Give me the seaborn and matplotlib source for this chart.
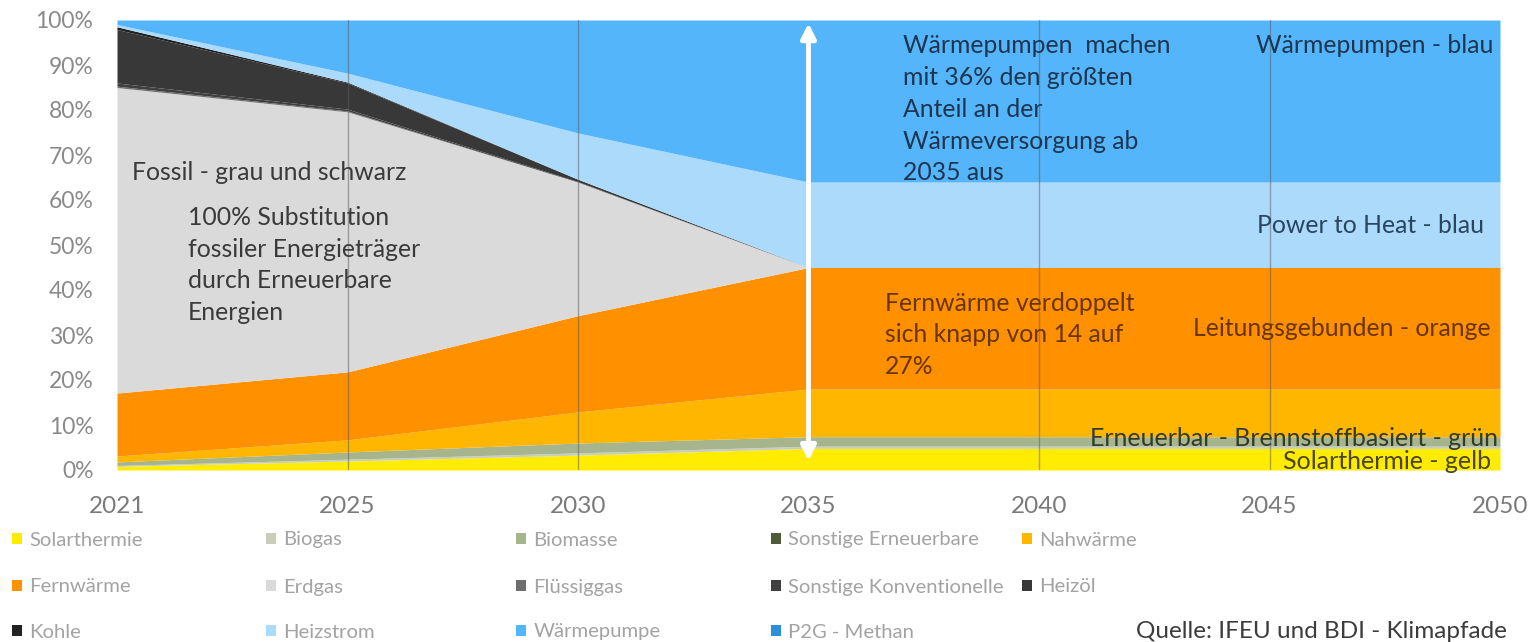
import matplotlib
matplotlib.use("Agg")
import matplotlib.pyplot as plt
from matplotlib.patches import Patch
import seaborn as sns

# ---- data: share of heat supply (%) ----
years = [2021, 2025, 2030, 2035, 2040, 2045, 2050]

solarthermie = [0.8, 2.0, 3.3, 4.8, 4.8, 4.8, 4.8]
biogas = [0.2, 0.4, 0.5, 0.5, 0.5, 0.5, 0.5]
biomasse = [0.8, 1.6, 2.2, 2.1, 2.1, 2.1, 2.1]
sonstige_erneuerbare = [0.0, 0.0, 0.0, 0.0, 0.0, 0.0, 0.0]
nahwaerme = [1.3, 2.7, 6.9, 10.6, 10.6, 10.6, 10.6]
fernwaerme = [14.0, 15.1, 21.4, 27.0, 27.0, 27.0, 27.0]
erdgas = [67.9, 57.8, 29.7, 0.0, 0.0, 0.0, 0.0]
fluessiggas = [0.3, 0.2, 0.0, 0.0, 0.0, 0.0, 0.0]
sonstige_konventionelle = [0.7, 0.4, 0.1, 0.0, 0.0, 0.0, 0.0]
heizoel = [11.9, 5.8, 0.5, 0.0, 0.0, 0.0, 0.0]
kohle = [0.6, 0.2, 0.0, 0.0, 0.0, 0.0, 0.0]
heizstrom = [0.5, 2.0, 10.3, 19.0, 19.0, 19.0, 19.0]
waermepumpe = [1.0, 11.8, 25.1, 36.0, 36.0, 36.0, 36.0]
p2g_methan = [0.0, 0.0, 0.0, 0.0, 0.0, 0.0, 0.0]

series_labels = ["Solarthermie", "Biogas", "Biomasse", "Sonstige Erneuerbare",
                 "Nahwärme", "Fernwärme", "Erdgas", "Flüssiggas",
                 "Sonstige Konventionelle", "Heizöl", "Kohle", "Heizstrom",
                 "Wärmepumpe", "P2G - Methan"]
series_values = [solarthermie, biogas, biomasse, sonstige_erneuerbare,
                 nahwaerme, fernwaerme, erdgas, fluessiggas,
                 sonstige_konventionelle, heizoel, kohle, heizstrom,
                 waermepumpe, p2g_methan]
series_colors = ["#FFEC00", "#C9CEBB", "#A7B58F", "#4E5B3A",
                 "#FFB600", "#FF9000", "#DADADA", "#6E6E6E",
                 "#404040", "#383838", "#222222", "#ABDAFB",
                 "#55B5FA", "#2E8FD8"]

# legend laid out row by row
legend_rows = [["Solarthermie", "Biogas", "Biomasse", "Sonstige Erneuerbare", "Nahwärme"],
               ["Fernwärme", "Erdgas", "Flüssiggas", "Sonstige Konventionelle", "Heizöl"],
               ["Kohle", "Heizstrom", "Wärmepumpe", "P2G - Methan"]]

sns.set_theme(style="white")
plt.rcParams["font.family"] = ["Lato", "DejaVu Sans"]

W, H = 1534, 642
fig = plt.figure(figsize=(W / 100, H / 100), dpi=100)
ax = fig.add_axes([117 / W, 1 - 470 / H, (1500 - 117) / W, (470 - 20) / H])

xpos = list(range(len(years)))
ax.stackplot(xpos, *series_values, colors=series_colors, labels=series_labels,
             linewidth=0, zorder=1)

ax.set_xlim(0, len(years) - 1)
ax.set_ylim(0, 100)
ax.set_xticks(xpos)
ax.set_xticklabels([str(y) for y in years])
ax.set_yticks(range(0, 101, 10))
ax.set_yticklabels([f"{v}%" for v in range(0, 101, 10)])
ax.tick_params(axis="x", length=0, pad=19, labelsize=17.5, labelcolor="#7a7a7a")
ax.tick_params(axis="y", length=0, pad=17, labelsize=16.5, labelcolor="#8a8a8a")
sns.despine(ax=ax, left=True, bottom=True)

# vertical gridlines
for i in [1, 2, 4, 5]:
    ax.axvline(i, color="#5a5a5a", lw=1.0, alpha=0.5, zorder=2)

# white double arrow at 2035
ax.annotate("", xy=(3, 99.3), xytext=(3, 2.0),
            arrowprops=dict(arrowstyle="<|-|>", color="white", lw=3.5,
                            mutation_scale=22, shrinkA=0, shrinkB=0),
            zorder=5)

LS = 7.1  # line spacing in percent units


def block(x, y0, lines, color, size=17.8, ha="left"):
    for k, line in enumerate(lines):
        ax.text(x, y0 - k * LS, line, ha=ha, va="center", fontsize=size,
                color=color, zorder=6)


block(0.065, 66.2, ["Fossil - grau und schwarz"], "#3a3a3a")
block(0.308, 56.2, ["100% Substitution", "fossiler Energieträger",
                    "durch Erneuerbare", "Energien"], "#3a3a3a")
block(3.41, 94.4, ["Wärmepumpen  machen", "mit 36% den größten", "Anteil an der",
                   "Wärmeversorgung ab", "2035 aus"], "#1d3550")
block(5.97, 94.4, ["Wärmepumpen - blau"], "#1d3550", ha="right")
block(5.93, 54.4, ["Power to Heat - blau"], "#2a4560", ha="right")
block(3.33, 37.1, ["Fernwärme verdoppelt", "sich knapp von 14 auf", "27%"], "#6a3400")
block(5.96, 31.5, ["Leitungsgebunden - orange"], "#6a3400", ha="right")
block(5.99, 6.9, ["Erneuerbar - Brennstoffbasiert - grün"], "#333a28", size=18, ha="right")
block(5.96, 1.8, ["Solarthermie - gelb"], "#4a4520", size=18, ha="right")

# legend entries on a fixed grid
color_of = dict(zip(series_labels, series_colors))
col_x = [12, 266, 516, 771, 1022]
row_y = [540, 587, 632]
for r, row in enumerate(legend_rows):
    for c, name in enumerate(row):
        h = Patch(facecolor=color_of[name], edgecolor="none")
        fig.legend(handles=[h], labels=[name], loc="center left",
                   bbox_to_anchor=(col_x[c] / W, 1 - row_y[r] / H),
                   frameon=False, borderpad=0, borderaxespad=0,
                   handlelength=0.5, handleheight=0.5, handletextpad=0.35,
                   fontsize=14.6, labelcolor="#a3a3a3")

fig.text(1507 / W, 1 - 631 / H, "Quelle: IFEU und BDI - Klimapfade",
         ha="right", va="center", fontsize=17.5, color="#3c3c3c")

fig.savefig("out.png", dpi=100, facecolor="white")
